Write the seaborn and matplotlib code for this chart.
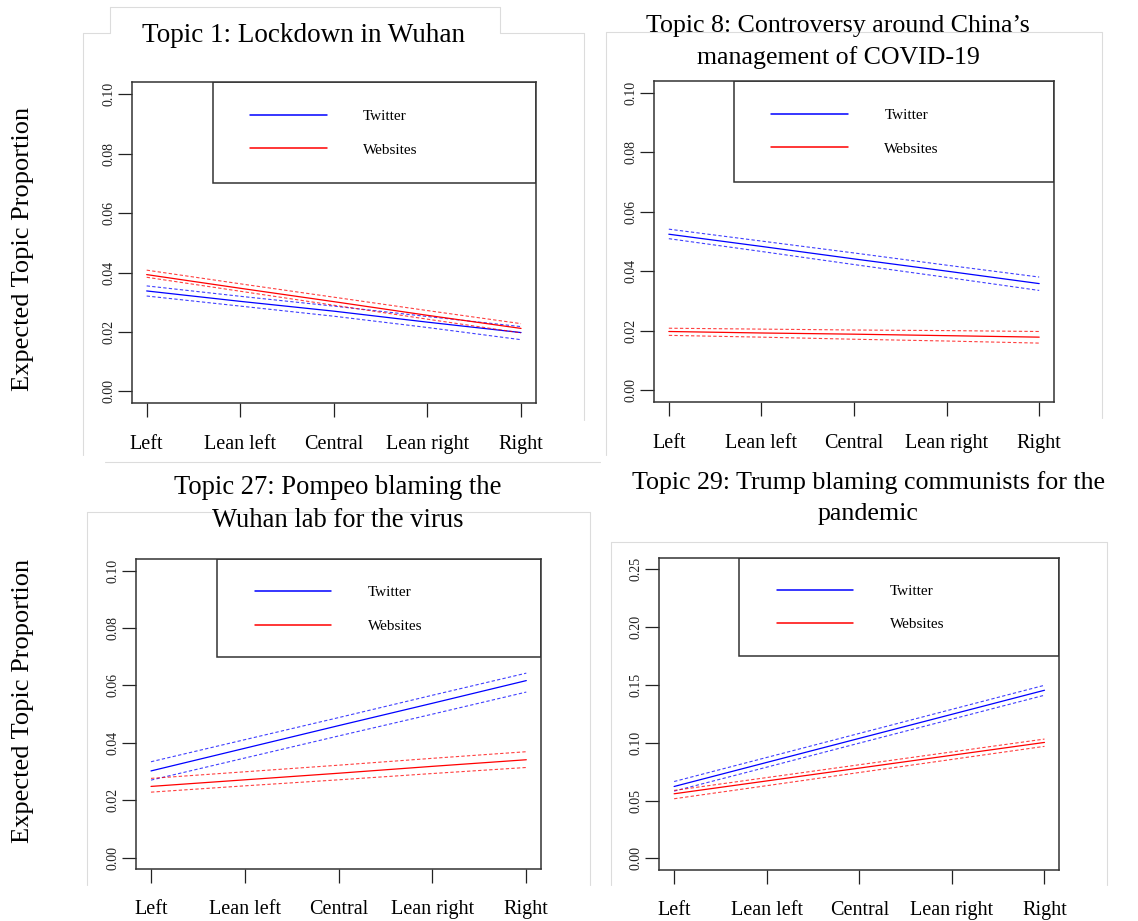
import matplotlib
matplotlib.use("Agg")
import matplotlib.pyplot as plt
from matplotlib.patches import Rectangle
from matplotlib.lines import Line2D
import seaborn as sns
import pandas as pd

sns.set_theme(style="white")
plt.rcParams['font.family'] = ['Liberation Serif', 'DejaVu Serif']
plt.rcParams['text.color'] = 'black'
plt.rcParams['axes.labelcolor'] = 'black'

# ---------------- data ----------------
categories = ["Left", "Lean left", "Central", "Lean right", "Right"]
titles = [
    "Topic 1: Lockdown in Wuhan",
    "Topic 8: Controversy around China\u2019s\nmanagement of COVID-19",
    "Topic 27: Pompeo blaming the\nWuhan lab for the virus",
    "Topic 29: Trump blaming communists for the\npandemic",
]
ylabel = "Expected Topic Proportion"
series_names = ["Twitter", "Websites"]

# Topic 1
t1_tw_mean = [0.0338, 0.0303, 0.0270, 0.0233, 0.0198]
t1_tw_up = [0.0355, 0.0320, 0.0287, 0.0252, 0.0218]
t1_tw_lo = [0.0321, 0.0287, 0.0253, 0.0215, 0.0174]
t1_web_mean = [0.0393, 0.0347, 0.0302, 0.0256, 0.0212]
t1_web_up = [0.0408, 0.0362, 0.0317, 0.0272, 0.0228]
t1_web_lo = [0.0384, 0.0337, 0.0290, 0.0243, 0.0197]

# Topic 8
t8_tw_mean = [0.0525, 0.0484, 0.0442, 0.0401, 0.0359]
t8_tw_up = [0.0542, 0.0502, 0.0462, 0.0421, 0.0381]
t8_tw_lo = [0.0510, 0.0467, 0.0423, 0.0380, 0.0336]
t8_web_mean = [0.0198, 0.0193, 0.0189, 0.0184, 0.0179]
t8_web_up = [0.0209, 0.0206, 0.0203, 0.0201, 0.0198]
t8_web_lo = [0.0185, 0.0179, 0.0172, 0.0166, 0.0159]

# Topic 27
t27_tw_mean = [0.0302, 0.0381, 0.0460, 0.0538, 0.0617]
t27_tw_up = [0.0334, 0.0411, 0.0488, 0.0566, 0.0643]
t27_tw_lo = [0.0270, 0.0347, 0.0424, 0.0500, 0.0577]
t27_web_mean = [0.0248, 0.0271, 0.0294, 0.0318, 0.0341]
t27_web_up = [0.0276, 0.0299, 0.0322, 0.0346, 0.0369]
t27_web_lo = [0.0228, 0.0250, 0.0271, 0.0293, 0.0314]

# Topic 29
t29_tw_mean = [0.0622, 0.0830, 0.1038, 0.1246, 0.1454]
t29_tw_up = [0.0665, 0.0873, 0.1081, 0.1289, 0.1497]
t29_tw_lo = [0.0582, 0.0789, 0.0997, 0.1204, 0.1411]
t29_web_mean = [0.0559, 0.0670, 0.0781, 0.0892, 0.1003]
t29_web_up = [0.0588, 0.0699, 0.0810, 0.0921, 0.1032]
t29_web_lo = [0.0516, 0.0629, 0.0743, 0.0856, 0.0969]

yticks_small = [0.00, 0.02, 0.04, 0.06, 0.08, 0.10]
yticks_large = [0.00, 0.05, 0.10, 0.15, 0.20, 0.25]

panels = [
    dict(tw=(t1_tw_mean, t1_tw_up, t1_tw_lo), web=(t1_web_mean, t1_web_up, t1_web_lo),
         yticks=yticks_small, fmt="{:.2f}"),
    dict(tw=(t8_tw_mean, t8_tw_up, t8_tw_lo), web=(t8_web_mean, t8_web_up, t8_web_lo),
         yticks=yticks_small, fmt="{:.2f}"),
    dict(tw=(t27_tw_mean, t27_tw_up, t27_tw_lo), web=(t27_web_mean, t27_web_up, t27_web_lo),
         yticks=yticks_small, fmt="{:.2f}"),
    dict(tw=(t29_tw_mean, t29_tw_up, t29_tw_lo), web=(t29_web_mean, t29_web_up, t29_web_lo),
         yticks=yticks_large, fmt="{:.2f}"),
]

# ---------------- layout (pixels) ----------------
W, H = 1138, 921
fig = plt.figure(figsize=(W / 100, H / 100), dpi=100)
fig.patch.set_facecolor("white")

def px_axes(l, t, r, b):
    return [l / W, 1 - b / H, (r - l) / W, (b - t) / H]

axes_px = [
    (131.7, 82.3, 536.0, 403.3),
    (654.0, 81.0, 1054.0, 402.3),
    (136.0, 559.3, 541.3, 869.0),
    (659.3, 557.7, 1059.3, 870.0),
]
title_pos = [(0.426, 1.145), (0.46, 1.120), (0.497, 1.180), (0.522, 1.191)]
title_size = [19.5, 18.6, 19.2, 18.7]
title_spacing = [1.5, 1.5, 1.42, 1.5]
legend_anchor = (0.293, 0.915)

# faint screenshot frames
frames = [
    [(83, 455), (83, 33), (110, 33), (110, 7), (500, 7), (500, 33), (584, 33), (584, 420)],
    [(606, 455), (606, 32), (1102, 32), (1102, 418)],
    [(87, 885), (87, 512), (590, 512), (590, 885)],
    [(611, 885), (611, 542), (1107, 542), (1107, 885)],
    [(105, 462), (600, 462)],
]
for fr in frames:
    xs = [p[0] / W for p in fr]
    ys = [1 - p[1] / H for p in fr]
    fig.add_artist(Line2D(xs, ys, color="#dcdcdc", lw=0.8, zorder=0))

colors = {"Twitter": "#0000ff", "Websites": "#ff0000"}
xpos = list(range(1, len(categories) + 1))

for i, (p, apx) in enumerate(zip(panels, axes_px)):
    ax = fig.add_axes(px_axes(*apx))
    for name, key in zip(series_names, ["tw", "web"]):
        mean, up, lo = p[key]
        df = pd.DataFrame({"x": xpos, "mean": mean, "up": up, "lo": lo})
        sns.lineplot(data=df, x="x", y="mean", ax=ax, color=colors[name], lw=0.9, label=name)
        sns.lineplot(data=df, x="x", y="up", ax=ax, color=colors[name], lw=0.8,
                     linestyle=(0, (3, 2)), alpha=0.75, label="_nolegend_")
        sns.lineplot(data=df, x="x", y="lo", ax=ax, color=colors[name], lw=0.8,
                     linestyle=(0, (3, 2)), alpha=0.75, label="_nolegend_")
    yt = p["yticks"]
    span = yt[-1] - yt[0]
    ax.set_ylim(yt[0] - 0.04 * span, yt[-1] + 0.04 * span)
    ax.set_xlim(0.84, 5.16)
    ax.set_xticks(xpos)
    ax.set_xticklabels(categories, fontsize=14.5)
    ax.set_yticks(yt)
    ax.set_yticklabels([p["fmt"].format(v) for v in yt], fontsize=10, rotation=90, va="center")
    ax.tick_params(axis="x", direction="out", length=10, width=0.9, pad=12.5, colors="#222222",
                   labelcolor="black", bottom=True)
    ax.tick_params(axis="y", direction="out", length=10, width=0.9, pad=2, colors="#222222",
                   labelcolor="#222222", left=True)
    ax.set_xlabel("")
    ax.set_ylabel("")
    for s in ax.spines.values():
        s.set_visible(True)
        s.set_color("#333333")
        s.set_linewidth(1.1)
    ax.set_facecolor("white")
    ax.grid(False)

    # legend box (R style, upper right)
    ax.add_patch(Rectangle((0.2, 0.686), 0.8, 0.314, transform=ax.transAxes, fill=False,
                           edgecolor="#333333", lw=1.1, zorder=5))
    handles, labels = ax.get_legend_handles_labels()
    leg = ax.legend(handles, labels, loc="upper left", bbox_to_anchor=legend_anchor,
                    frameon=False, fontsize=11, handlelength=5.0, handletextpad=2.4,
                    labelspacing=1.3, borderpad=0, borderaxespad=0)
    for h in leg.get_lines():
        h.set_linewidth(1.1)
    for t in leg.get_texts():
        t.set_color("black")

    tx, ty = title_pos[i]
    ax.set_title(titles[i], x=tx, y=ty, va="center", ha="center", fontsize=title_size[i],
                 linespacing=title_spacing[i], pad=0, color="black")

fig.text(23 / W, 1 - 249 / H, ylabel, rotation=90, ha="center", va="center", fontsize=19,
         color="black")
fig.text(23 / W, 1 - 701 / H, ylabel, rotation=90, ha="center", va="center", fontsize=19,
         color="black")

fig.savefig("out.png", dpi=100, facecolor="white")
